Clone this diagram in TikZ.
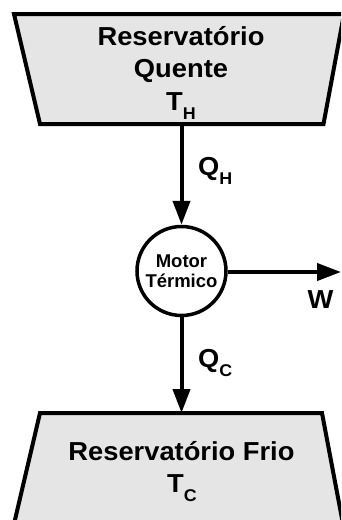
\documentclass[tikz,border=0pt]{standalone}
\usepackage{fontspec}
\setmainfont{Liberation Sans}
\newfontfamily\bigfam{Liberation Sans}[FakeStretch=1.05]
\usetikzlibrary{arrows.meta}
\definecolor{resfill}{RGB}{229,229,229}
\newcommand{\sbscr}[1]{\raisebox{-9pt}{\fontsize{17}{17}\selectfont #1}}
\begin{document}
\begin{tikzpicture}[x=1pt,y=-1pt,
  reservoir/.style={draw=black,fill=resfill,line width=4pt},
  arr/.style={line width=4pt,-{Triangle[width=17pt,length=24pt]}},
  big/.style={font=\bigfam\fontsize{26}{33}\selectfont\bfseries,inner sep=0pt},
  small/.style={font=\fontsize{18.5}{20}\selectfont\bfseries,inner sep=0pt}]
\useasboundingbox (0,0) rectangle (341,520);
\clip (0,0) rectangle (341,520);
% hot reservoir
\draw[reservoir] (14,14) -- (344,14) -- (323.5,124) -- (40,124) -- cycle;
\coordinate (hotbot) at (181.5,124);
\node[big,anchor=base] (hot1) at (181,45) {Reservatório};
\node[big,anchor=base] (hot2) at (181,77) {Quente};
\node[big,anchor=base] (hot3) at (181,110) {T\sbscr{H}};
% cold reservoir
\draw[reservoir] (40,413) -- (322,413) -- (343,524) -- (14,524) -- cycle;
\coordinate (coldtop) at (181.5,413);
\node[big,anchor=base] (cold1) at (181.5,460) {Reservatório Frio};
\node[big,anchor=base] (cold2) at (182,492) {T\sbscr{C}};
% engine
\node[circle,draw,fill=white,line width=3.5pt,minimum size=89pt,inner sep=0pt,
      small,align=center] (motor) at (181.5,271) {Motor\\Térmico};
\coordinate (wend) at (341,272);
% connectors
\draw[arr] (hotbot) -- (motor);
\draw[arr] (motor) -- (coldtop);
\draw[arr] (motor.east |- wend) -- (wend);
% labels
\node[big,anchor=base west] (qh) at (198,175) {Q\sbscr{H}};
\node[big,anchor=base west] (qc) at (198,367) {Q\sbscr{C}};
\node[big,anchor=base] (w) at (320.5,308) {W};
\end{tikzpicture}
\end{document}
